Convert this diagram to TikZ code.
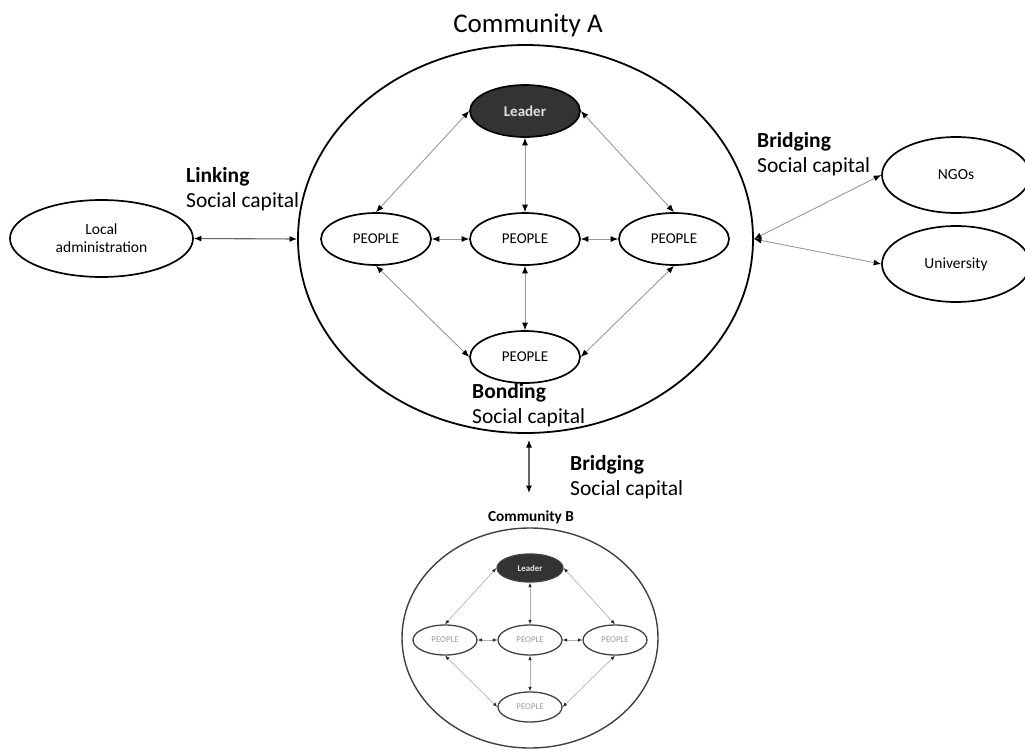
\documentclass[tikz,border=0pt]{standalone}
\usepackage{fontspec}
\setmainfont{Carlito}
\usetikzlibrary{shapes.geometric,arrows.meta}
\begin{document}
\begin{tikzpicture}[x=1pt, y=-1pt,
    headA/.tip={Latex[length=7.5pt,width=6pt,black]},
    headB/.tip={Latex[length=4.5pt,width=3.5pt,black!85]},
    person/.style={ellipse, draw, line width=1.7pt, minimum width=110pt, minimum height=52pt, inner sep=0pt, font=\fontsize{15}{18}\selectfont},
    chief/.style={person, fill=black!80, text=black!12, font=\bfseries\fontsize{15}{18}\selectfont},
    personB/.style={ellipse, draw=black!75, line width=1.3pt, minimum width=64pt, minimum height=30pt, inner sep=0pt, text=black!40, font=\fontsize{8.8}{10}\selectfont},
    chiefB/.style={personB, fill=black!80, text=black!10, minimum width=66pt, minimum height=28pt, font=\bfseries\fontsize{8.8}{10}\selectfont},
    partner/.style={ellipse, draw, line width=1.7pt, minimum width=148pt, minimum height=76pt, inner sep=0pt, align=center, font=\fontsize{15.5}{18}\selectfont},
    tie/.style={headA-headA, draw=black!40, line width=0.9pt},
    tieB/.style={headB-headB, draw=black!30, line width=0.7pt},
    link/.style={headA-headA, draw=black!60, line width=1.1pt},
    capital/.style={anchor=base west, inner sep=0pt, align=left, font=\fontsize{21.5}{25}\selectfont}
  ]
  \useasboundingbox (0,0) rectangle (1025,750);

  % community A
  \node [anchor=base, font=\fontsize{27}{32}\selectfont] (titleA) at (528,32) {Community A};
  \node [ellipse, draw, line width=1.8pt, minimum width=455pt, minimum height=388pt, inner sep=0pt] (commA) at (525.5,239) {};
  \node [chief] (leaderA) at (525,111) {Leader};
  \node [person] (leftA) at (376,239) {PEOPLE};
  \node [person] (midA) at (525,239) {PEOPLE};
  \node [person] (rightA) at (674,239) {PEOPLE};
  \node [person] (lowA) at (525,357) {PEOPLE};
  \draw [tie] (leaderA.west) -- (leftA.north);
  \draw [tie] (leaderA.south) -- (midA.north);
  \draw [tie] (leaderA.east) -- (rightA.north);
  \draw [tie] (leftA.east) -- (midA.west);
  \draw [tie] (midA.east) -- (rightA.west);
  \draw [tie] (leftA.south) -- (lowA.west);
  \draw [tie] (midA.south) -- (lowA.north);
  \draw [tie] (rightA.south) -- (lowA.east);
  \node [capital] (bonding) at (472,423) {\textbf{Bonding}\\Social capital};

  % outside partners
  \node [partner, minimum width=183pt, minimum height=77pt] (admin) at (101.5,238.5) {Local\\administration};
  \node [partner] (ngo) at (956,175) {NGOs};
  \node [partner] (uni) at (956,264) {University};
  \draw [link] (admin.east) -- (commA.west);
  \draw [tie] (commA.east) -- (ngo.west);
  \draw [tie] (commA.east) -- (uni.west);
  \node [capital] (linking) at (186,207) {\textbf{Linking}\\Social capital};
  \node [capital] (bridgeR) at (757,172) {\textbf{Bridging}\\Social capital};

  % link to community B
  \coordinate (endA) at (529,440);
  \coordinate (endB) at (529,493);
  \draw [link] (endA) -- (endB);
  \node [capital] (bridgeB) at (570,495) {\textbf{Bridging}\\Social capital};

  % community B
  \node [anchor=base, font=\bfseries\fontsize{15.3}{18}\selectfont] (titleB) at (531,521) {Community B};
  \node [ellipse, draw=black!75, line width=1.4pt, minimum width=256pt, minimum height=220pt, inner sep=0pt] (commB) at (530,638) {};
  \node [chiefB] (leaderB) at (530,568) {Leader};
  \node [personB] (leftB) at (445,640) {PEOPLE};
  \node [personB] (midB) at (530,640) {PEOPLE};
  \node [personB] (rightB) at (615,640) {PEOPLE};
  \node [personB] (lowB) at (530,707) {PEOPLE};
  \draw [tieB] (leaderB.west) -- (leftB.north);
  \draw [tieB] (leaderB.south) -- (midB.north);
  \draw [tieB] (leaderB.east) -- (rightB.north);
  \draw [tieB] (leftB.east) -- (midB.west);
  \draw [tieB] (midB.east) -- (rightB.west);
  \draw [tieB] (leftB.south) -- (lowB.west);
  \draw [tieB] (midB.south) -- (lowB.north);
  \draw [tieB] (rightB.south) -- (lowB.east);
\end{tikzpicture}
\end{document}
